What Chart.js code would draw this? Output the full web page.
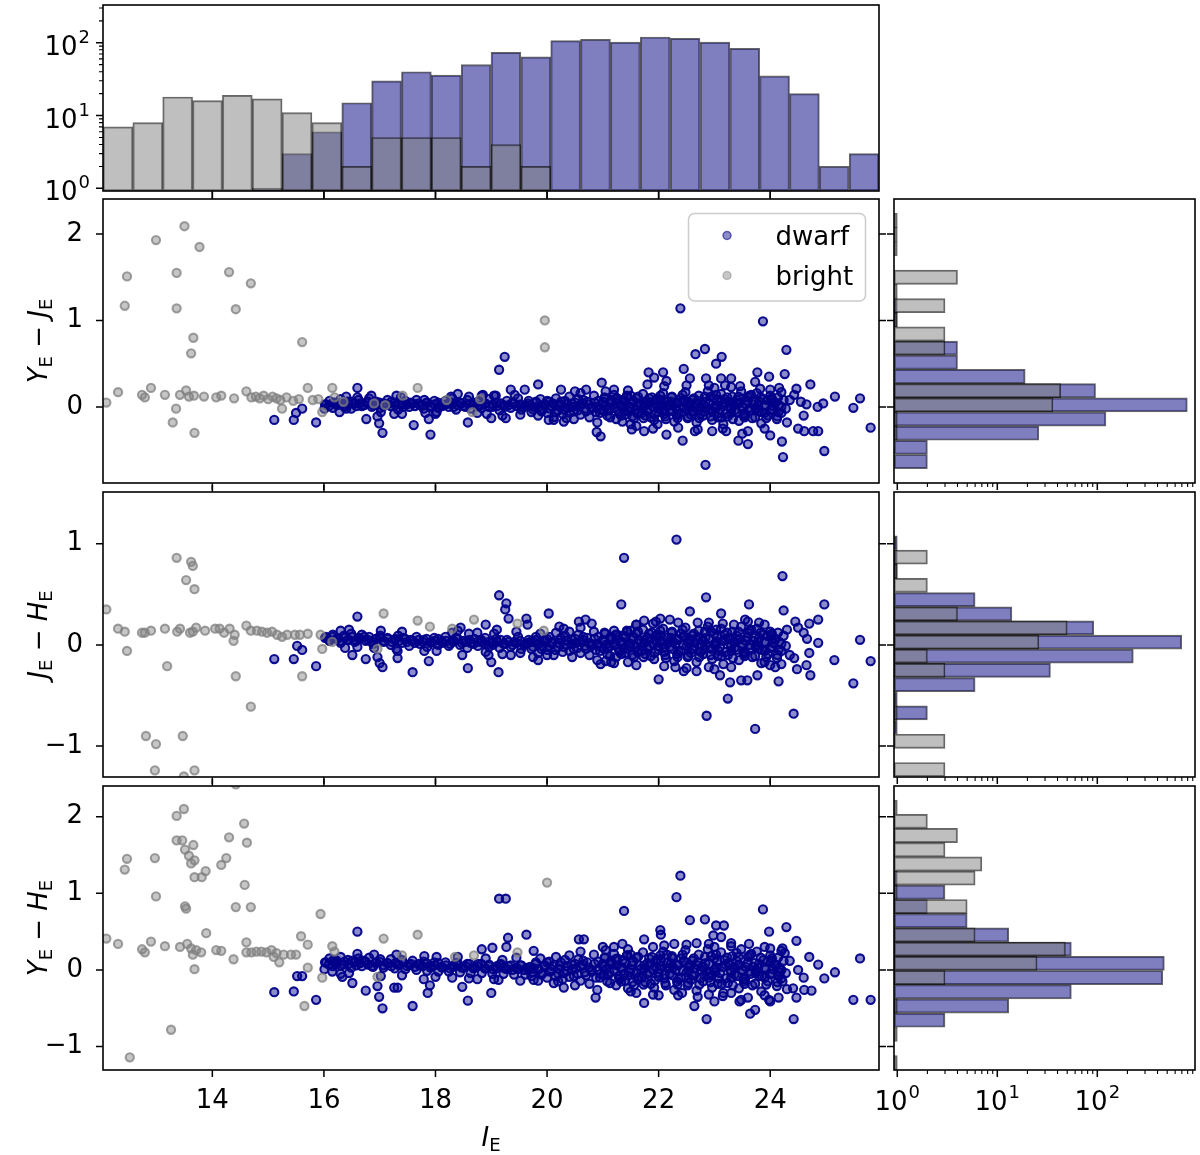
<!DOCTYPE html>
<html><head><meta charset="utf-8">
<script src="https://cdn.jsdelivr.net/npm/chart.js@4.4.1/dist/chart.umd.min.js"></script>
<style>
html,body{margin:0;padding:0;background:#fff;}
#wrap{position:relative;width:1200px;height:1155px;overflow:hidden;background:#fff;}
#wrap canvas{position:absolute;left:0;top:0;}
</style></head><body><div id="wrap"></div>
<script>
// ---------------- DATA ----------------
const seriesNames = ['dwarf', 'bright'];
const xRange = [12.04, 25.95];
const xTicks = [14, 16, 18, 20, 22, 24];
const yRangeYJ = [-0.88, 2.405], yTicksYJ = [0, 1, 2];
const yRangeJH = [-1.305, 1.51], yTicksJH = [-1, 0, 1];
const yRangeYH = [-1.305, 2.40], yTicksYH = [-1, 0, 1, 2];
const countRangeTop = [0.92, 330];
const countRangeSide = [0.927, 948];
const logTicks = [1, 10, 100];
const logMinor = [2,3,4,5,6,7,8,9,20,30,40,50,60,70,80,90,200,300,400,500,600,700,800,900];

// I_E histogram (bin centres)
const binI = [12.308,12.843,13.378,13.913,14.448,14.983,15.518,16.053,16.588,17.123,17.658,18.193,18.728,19.263,19.798,20.333,20.868,21.403,21.938,22.473,23.008,23.543,24.078,24.613,25.148,25.683];
const countI_dwarf  = [null,null,null,null,null,1,3,6,15,30,40,36,50,74,64,107,111,102,120,115,102,84,35,20,2,3];
const countI_bright = [7,8,18,16,19,17,11,8,2,5,5,5,2,4,2,null,null,null,null,null,null,null,null,null,null,null];

// colour histograms (bin centres, ascending)
const binYJ = [-0.632,-0.468,-0.304,-0.140,0.024,0.188,0.352,0.516,0.680,0.844,1.008,1.172,1.336,1.500,1.664,1.828,1.992,2.156];
const countYJ_dwarf  = [2,2,26,122,794,96,19,4,4,null,1,1,null,null,null,null,null,null];
const countYJ_bright = [null,null,1,1,36,43,null,null,3,3,1,3,1,4,null,1,1,1];
const binJH = [-1.231,-1.091,-0.952,-0.812,-0.672,-0.532,-0.392,-0.252,-0.112,0.028,0.168,0.307,0.447,0.587,0.727,0.867,1.007];
const countJH_dwarf  = [null,null,null,1,2,1,6,34,229,698,92,14,6,null,1,1,1];
const countJH_bright = [3,null,3,null,1,null,null,3,2,26,50,4,null,2,1,2,null];
const binYH = [-1.211,-1.026,-0.840,-0.655,-0.470,-0.284,-0.099,0.086,0.272,0.457,0.642,0.827,1.013,1.198,1.383,1.568,1.754,1.939,2.124];
const countYH_dwarf  = [null,null,null,3,13,55,451,468,55,13,5,2,3,1,null,null,null,null,null];
const countYH_bright = [1,null,1,null,1,null,3,25,48,6,null,5,1,6,7,3,4,2,1];

// scatter: [I_E, colour]
const brightYJ = [[12.10,0.05],[12.31,0.17],[12.43,1.17],[12.47,1.51],[12.74,0.14],[12.79,0.11],[12.90,0.22],[12.99,1.93],[13.15,0.14],[13.29,-0.18],[13.35,-0.02],[13.36,1.55],[13.36,1.14],[13.42,0.14],[13.50,2.09],[13.53,0.19],[13.58,0.12],[13.62,0.62],[13.66,0.80],[13.67,0.13],[13.68,-0.30],[13.77,1.85],[13.85,0.12],[14.07,0.11],[14.16,0.13],[14.30,1.56],[14.39,0.10],[14.42,1.13],[14.61,0.18],[14.69,1.43],[14.70,0.11],[14.78,0.12],[14.85,0.10],[14.92,0.13],[15.0,0.09],[15.08,0.12],[15.15,0.10],[15.25,-0.02],[15.22,0.08],[15.33,0.11],[15.45,0.07],[15.55,0.09],[15.61,0.75],[15.71,0.22],[15.80,0.08],[15.90,0.09],[15.97,-0.06],[16.15,0.22],[16.19,0.11],[16.35,0.06],[16.9,0.04],[17.1,0.02],[17.41,0.13],[17.68,0.22],[18.2,0.08],[18.66,-0.06],[18.8,0.09],[19.96,1.00],[19.96,0.69]];

const dwarfYJ = [[22.39,1.14],[23.87,0.99],[24.29,0.66],[22.83,0.67],[22.66,0.61],[23.13,0.58],[23.03,0.50],[22.45,0.44],[19.24,0.58],[19.14,0.43],[20.98,0.28],[19.84,0.26],[21.82,0.40],[21.92,0.34],[22.08,0.40],[22.14,0.30],[21.80,0.26],[22.56,0.33],[22.85,0.33],[23.12,0.33],[23.30,0.33],[23.19,0.25],[23.46,0.24],[23.77,0.40],[23.98,0.35],[24.26,0.38],[23.73,0.29],[23.82,0.21],[24.16,0.22],[24.47,0.21],[24.72,0.26],[24.43,0.14],[25.16,0.12],[25.61,0.10],[25.49,-0.01],[25.80,-0.24],[24.97,-0.51],[24.23,-0.58],[22.84,-0.67],[22.43,-0.39],[22.14,-0.32],[23.60,-0.43],[23.43,-0.39],[24.21,-0.40],[24.00,-0.33],[24.61,-0.28],[24.77,-0.28],[24.86,-0.28],[24.5,-0.25],[24.6,-0.10],[24.85,0.0],[24.65,0.03],[24.95,0.04],[24.55,0.06],[20.89,-0.29],[20.96,-0.34],[21.52,-0.26],[21.74,-0.28],[21.98,-0.20],[22.65,-0.28],[22.96,-0.28],[23.21,-0.28],[23.50,-0.31],[15.11,-0.15],[15.46,-0.15],[15.50,-0.07],[15.61,-0.02],[15.86,-0.18],[16.60,0.22],[16.01,-0.02],[16.19,0.05],[16.3,0.03],[16.4,-0.02],[16.76,-0.14],[16.96,-0.11],[16.99,-0.19],[17.05,-0.30],[17.26,-0.08],[17.4,-0.08],[17.61,-0.21],[17.88,-0.14],[17.91,-0.32],[18.0,-0.08],[18.58,-0.18],[19.00,-0.13],[19.26,-0.13],[20.03,-0.15],[20.12,-0.15],[20.35,-0.13],[20.48,-0.14],[21.35,-0.17],[21.5,-0.20],[18.3,0.10],[18.85,0.14],[19.6,0.20],[17.8,0.08],[19.35,0.20],[20.25,0.20],[20.5,0.18],[20.7,0.20],[18.83,0.13],[19.08,0.13],
[16.04,0.03],[16.1,0.07],[16.16,-0.01],[16.23,0.05],[16.3,0.09],[16.36,0.02],[16.43,0.06],[16.49,-0.02],[16.55,0.04],[16.62,0.08],[16.68,0.01],[16.75,0.05],[16.81,0.10],[16.88,0.02],[16.94,0.06],[17.01,-0.01],[17.07,0.04],[17.14,0.08],[17.2,0.01],[17.27,0.05],[17.33,-0.03],[17.4,0.03],[17.46,0.07],[17.53,0.0],[17.59,0.04],[17.66,0.08],[17.72,0.02],[17.79,-0.02],[17.85,0.05],[17.92,0.01],[17.98,0.07],[18.05,-0.01],[18.11,0.03],[18.18,0.07],[18.24,0.0],[18.31,0.04],[18.37,-0.03],[18.44,0.05],[18.5,0.01],[18.57,0.08],[18.63,-0.02],[18.7,0.03],[18.76,0.06],[18.83,-0.01],[18.89,0.04],[18.96,0.09],[19.02,0.0],[19.09,0.05],[19.15,-0.04],[19.22,0.02],[19.28,0.07],[19.35,-0.01],[19.41,0.04],[19.48,0.10],[19.54,-0.03],[19.61,0.02],[19.67,0.07],
[16.28,-0.06],[16.85,0.13],[17.38,0.11],[17.82,-0.07],[18.28,0.12],[18.92,-0.08],[19.05,0.13],[19.42,0.14],[19.52,-0.09],[16.6,0.11],[17.02,-0.06],[18.02,-0.06],[18.6,0.12],[17.3,0.13],[18.4,0.15],[19.2,-0.10],[16.4,0.12],[18.75,-0.07],
[19.72,-0.06],[19.76,0.0],[19.8,0.05],[19.84,-0.10],[19.88,0.09],[19.92,-0.03],[19.96,0.03],[20.0,-0.07],[20.04,0.06],[20.08,0.01],[20.12,-0.12],[20.16,0.10],[20.2,-0.04],[20.24,0.03],[20.28,-0.08],[20.32,0.07],[20.36,-0.01],[20.4,0.12],[20.44,0.04],[20.48,-0.05],[20.52,0.01],[20.56,0.09],[20.6,-0.09],[20.64,0.04],[20.68,-0.02],[20.72,0.06],[20.76,-0.12],[20.8,0.0],[20.84,0.13],[20.88,-0.06],[20.92,0.07],[20.96,-0.03],[21.0,0.03],[21.04,0.10],[21.08,-0.10],[21.12,-0.02],[21.16,0.05],[21.2,0.14],[21.24,-0.14],[21.28,-0.05],[21.32,0.02],[21.36,0.08],[21.4,-0.09],[21.44,0.12],[21.48,-0.02],[21.52,0.04],[21.56,-0.13],[21.6,0.10],[21.64,-0.06],[21.68,0.01],[21.72,0.15],[21.76,-0.10],[21.8,0.06],[21.84,-0.02],[21.88,0.11],[21.92,-0.15],[21.96,0.03],[22.0,-0.06],[22.04,0.08],[22.08,0.16],[22.12,-0.11],[22.16,0.01],[22.2,-0.03],[22.24,0.12],[22.28,-0.17],[22.32,0.05],[22.36,-0.08],[22.4,0.10],[22.44,-0.01],[22.48,0.17],[22.52,-0.13],[22.56,0.03],[22.6,0.08],[22.64,-0.05],[22.68,-0.18],[22.72,0.13],[22.76,0.0],[22.8,-0.10],[22.84,0.06],[22.88,0.18],[22.92,-0.03],[22.96,-0.15],[23.0,0.10],[23.04,0.02],[23.08,-0.07],[23.12,0.15],[23.16,-0.20],[23.2,0.05],[23.24,-0.11],[23.28,0.0],[23.32,0.12],[23.36,-0.04],[23.4,0.08],[23.44,-0.16],[23.48,0.18],[23.52,-0.08],[23.56,0.03],[23.6,0.11],[23.64,-0.01],[23.68,-0.13],[23.72,0.06],[23.76,0.16],[23.8,-0.05],[23.84,-0.19],[23.88,0.09],[23.92,0.01],[23.96,-0.10],[24.0,0.13],[24.04,-0.03],[24.08,0.05],[24.12,-0.14],[24.16,0.02],[24.2,-0.07],[24.24,0.08],[24.28,-0.02],
[21.02,-0.05],[21.14,0.07],[21.26,0.10],[21.38,-0.04],[21.5,0.13],[21.62,-0.08],[21.74,0.04],[21.86,-0.12],[21.98,0.09],[22.1,-0.04],[22.22,0.06],[22.34,-0.13],[22.46,0.07],[22.58,-0.09],[22.7,0.04],[22.82,-0.05],[22.94,0.12],[23.06,-0.12],[23.18,0.09],[23.3,-0.07],[23.42,0.04],[23.54,-0.12],[23.66,0.14],[23.78,0.02],[23.9,-0.07],[24.02,0.08],[24.14,0.11],[22.02,0.01],[22.54,0.0],[23.02,-0.02],[23.5,0.0],[22.26,0.02],[22.78,0.03],[23.26,0.05],[23.74,-0.03],
[21.2,0.20],[21.6,-0.22],[22.1,0.24],[22.7,-0.26],[23.3,0.23],[23.9,-0.25],[24.0,0.20],[20.6,0.16],[20.9,-0.18],[22.5,0.25],[23.6,-0.28],[24.3,-0.18],[24.35,0.08],[21.9,-0.25],[22.35,-0.24],[23.0,0.22],[23.15,-0.25],[22.9,0.25],[21.45,0.19],[24.2,0.17],[20.3,-0.17],[21.05,0.18]];

const coreYJ = [[16.02,0.03],[16.09,0.01],[16.16,0.05],[16.23,0.02],[16.3,0.04],[16.37,0.0],[16.44,0.03],[16.51,0.06],[16.58,0.01],[16.65,0.04],[16.72,0.02],[16.79,0.06],[16.86,0.0],[16.93,0.03],[17.0,0.05],[17.07,0.01],[17.14,0.03],[17.21,0.06],[17.28,0.02],[17.35,0.04],[17.42,0.0],[17.49,0.03],[17.56,0.05],[17.63,0.01],[17.7,0.04],[17.77,0.02],[17.84,0.05],[17.91,0.0],[17.98,0.03],[18.05,0.05],[18.12,0.01],[18.19,0.03],[18.26,0.05],[18.33,0.0],[18.4,0.02],[18.47,0.04],[18.54,0.0],[18.61,0.03],[18.68,0.05],[18.75,0.01],[18.82,0.02],[18.89,0.04],[18.96,0.0],[19.03,0.03],[19.1,0.01],[19.17,0.04],[19.24,0.0],[19.31,0.02],[19.38,0.05],[19.45,0.01],[19.52,0.03],[19.59,0.0],[19.66,0.04],
[19.7,0.02],[19.75,-0.03],[19.8,0.06],[19.85,0.0],[19.9,-0.05],[19.95,0.03],[20.0,0.07],[20.05,-0.02],[20.1,0.04],[20.15,-0.06],[20.2,0.01],[20.25,0.06],[20.3,-0.03],[20.35,0.03],[20.4,-0.07],[20.45,0.0],[20.5,0.05],[20.55,-0.04],[20.6,0.02],[20.65,0.08],[20.7,-0.05],[20.75,0.03],[20.8,-0.02],[20.85,0.05],[20.9,0.0],[20.95,-0.07],[21.0,0.06],[21.05,0.01],[21.1,-0.04],[21.15,0.08],[21.2,-0.01],[21.25,0.04],[21.3,-0.08],[21.35,0.02],[21.4,0.06],[21.45,-0.05],[21.5,0.0],[21.55,0.07],[21.6,-0.03],[21.65,0.04],[21.7,-0.07],[21.75,0.01],[21.8,-0.04],[21.85,0.05],[21.9,0.0],[21.95,0.08],[22.0,-0.02],[22.05,0.03],[22.1,-0.08],[22.15,0.06],[22.2,0.02],[22.25,-0.05],[22.3,0.0],[22.35,0.04],[22.4,-0.07],[22.45,0.08],[22.5,-0.02],[22.55,0.05],[22.6,-0.05],[22.65,0.01],[22.7,0.07],[22.75,-0.08],[22.8,0.03],[22.85,-0.01],[22.9,0.05],[22.95,-0.05],[23.0,0.0],[23.05,0.08],[23.1,-0.03],[23.15,0.03],[23.2,-0.08],[23.25,0.06],[23.3,-0.02],[23.35,0.02],[23.4,-0.06],[23.45,0.05],[23.5,0.0],[23.55,-0.09],[23.6,0.07],[23.65,-0.04],[23.7,0.03],[23.75,-0.01],[23.8,0.06],[23.85,-0.06],[23.9,0.02],[23.95,0.08],[24.0,-0.04],[24.05,0.01],[24.1,0.05],[24.15,-0.06],[24.2,0.0],
[21.03,0.11],[21.13,-0.12],[21.23,0.09],[21.33,-0.10],[21.43,0.13],[21.53,-0.11],[21.63,0.12],[21.73,-0.13],[21.83,0.10],[21.93,-0.09],[22.03,0.13],[22.13,-0.14],[22.23,0.11],[22.33,-0.10],[22.43,0.14],[22.53,-0.12],[22.63,0.10],[22.73,-0.13],[22.83,0.12],[22.93,-0.11],[23.03,0.14],[23.13,-0.12],[23.23,0.11],[23.33,-0.14],[23.43,0.12],[23.53,-0.10],[23.63,0.13],[23.73,-0.12],[23.83,0.11],[23.93,-0.13],[24.03,0.10],[24.13,-0.11]];

const brightJH = [[12.10,0.35],[12.31,0.16],[12.43,0.13],[12.47,-0.06],[12.74,0.12],[12.79,0.12],[12.81,-0.90],[12.90,0.14],[12.97,-1.24],[12.99,-0.98],[13.15,0.16],[13.19,-0.21],[13.36,0.86],[13.37,0.13],[13.42,0.16],[13.47,-0.90],[13.49,-1.30],[13.53,0.64],[13.60,0.12],[13.62,0.82],[13.65,0.78],[13.65,0.13],[13.68,0.55],[13.68,-1.24],[13.71,0.17],[13.87,0.14],[14.05,0.16],[14.13,0.16],[14.21,0.12],[14.31,0.16],[14.38,0.04],[14.40,0.10],[14.42,-0.31],[14.61,0.19],[14.69,0.14],[14.69,-0.61],[14.8,0.14],[14.89,0.13],[14.98,0.12],[15.07,0.13],[15.16,0.10],[15.25,0.08],[15.34,0.10],[15.48,0.10],[15.57,0.10],[15.61,-0.31],[15.71,0.11],[15.94,0.10],[15.97,-0.04],[16.15,0.03],[16.96,-0.04],[17.07,0.31],[17.68,0.24],[17.9,0.18],[18.3,0.16],[18.69,0.25],[19.47,0.21],[19.94,0.14]];

const dwarfJH = [[22.32,1.04],[21.38,0.86],[24.22,0.68],[19.14,0.49],[19.27,0.41],[19.25,0.35],[19.31,0.26],[22.85,0.47],[21.33,0.40],[23.62,0.40],[24.97,0.40],[24.24,0.34],[22.56,0.33],[23.12,0.31],[20.03,0.31],[19.63,0.26],[16.60,0.28],[24.86,0.25],[24.45,0.23],[24.70,0.21],[20.69,0.25],[20.57,0.23],[21.74,0.24],[22.03,0.26],[25.61,0.05],[25.80,-0.16],[25.49,-0.38],[25.15,-0.15],[24.72,-0.30],[24.42,-0.68],[23.73,-0.83],[22.86,-0.70],[23.24,-0.53],[23.28,-0.37],[23.48,-0.35],[23.59,-0.35],[24.15,-0.36],[23.77,-0.30],[22.00,-0.34],[22.45,-0.26],[22.68,-0.26],[23.10,-0.30],[20.96,-0.19],[19.13,-0.27],[18.58,-0.23],[17.59,-0.27],[17.05,-0.22],[17.0,-0.18],[16.96,-0.12],[15.11,-0.14],[15.46,-0.14],[15.86,-0.21],[15.52,-0.01],[15.61,-0.05],[16.75,-0.14],[16.51,-0.10],[16.38,-0.03],[17.32,-0.13],[17.32,-0.06],[17.88,-0.16],[18.48,-0.10],[18.95,-0.10],[19.00,-0.17],[19.35,-0.10],[19.75,-0.12],[19.84,-0.15],[24.86,0.02],[24.66,0.06],[24.7,-0.08],[24.43,-0.13],[24.48,-0.24],[24.09,-0.22],[23.9,-0.17],[24.6,0.12],[24.5,0.17],[24.65,-0.20],[18.45,0.17],[18.9,0.20],[19.65,0.20],[19.1,0.15],[20.22,0.18],[20.8,0.21],[21.95,0.23],[21.6,0.20],[22.2,0.25],[22.9,0.22],[23.35,0.20],[23.8,0.22],[23.55,0.25],[20.45,-0.12],[21.15,-0.17],[21.6,-0.20],[22.3,-0.22],[20.0,-0.10],
[16.04,0.08],[16.1,0.04],[16.16,0.10],[16.23,0.06],[16.3,0.02],[16.36,0.09],[16.43,0.05],[16.49,0.11],[16.55,0.03],[16.62,0.07],[16.68,0.10],[16.75,0.04],[16.81,0.08],[16.88,0.01],[16.94,0.06],[17.01,0.09],[17.07,0.03],[17.14,0.07],[17.2,0.0],[17.27,0.05],[17.33,0.09],[17.4,0.02],[17.46,0.06],[17.53,-0.01],[17.59,0.04],[17.66,0.08],[17.72,0.01],[17.79,0.05],[17.85,-0.02],[17.92,0.03],[17.98,0.07],[18.05,0.0],[18.11,0.04],[18.18,0.08],[18.24,-0.01],[18.31,0.03],[18.37,0.07],[18.44,0.0],[18.5,0.04],[18.57,-0.03],[18.63,0.02],[18.7,0.06],[18.76,-0.01],[18.83,0.03],[18.89,0.07],[18.96,-0.02],[19.02,0.02],[19.09,0.06],[19.15,-0.03],[19.22,0.01],[19.28,0.05],[19.35,-0.02],[19.41,0.03],[19.48,0.08],[19.54,-0.04],[19.61,0.01],[19.67,0.05],
[16.3,0.14],[16.9,-0.03],[17.4,0.13],[17.8,-0.06],[18.3,0.12],[18.9,-0.07],[19.05,0.11],[19.45,0.13],[19.52,-0.08],[16.6,-0.02],[17.02,0.14],[18.02,-0.06],[18.6,0.11],[17.3,-0.04],[18.4,0.14],[19.2,-0.09],[16.45,0.15],[18.75,0.12],
[19.72,-0.04],[19.76,0.03],[19.8,0.08],[19.84,-0.08],[19.88,0.11],[19.92,-0.01],[19.96,0.05],[20.0,-0.05],[20.04,0.08],[20.08,0.02],[20.12,-0.10],[20.16,0.12],[20.2,-0.02],[20.24,0.05],[20.28,-0.07],[20.32,0.09],[20.36,0.0],[20.4,0.13],[20.44,0.05],[20.48,-0.04],[20.52,0.02],[20.56,0.10],[20.6,-0.08],[20.64,0.05],[20.68,-0.01],[20.72,0.07],[20.76,-0.10],[20.8,0.01],[20.84,0.13],[20.88,-0.05],[20.92,0.08],[20.96,-0.02],[21.0,0.04],[21.04,0.11],[21.08,-0.09],[21.12,-0.01],[21.16,0.06],[21.2,0.14],[21.24,-0.12],[21.28,-0.04],[21.32,0.03],[21.36,0.09],[21.4,-0.08],[21.44,0.13],[21.48,-0.01],[21.52,0.05],[21.56,-0.12],[21.6,0.11],[21.64,-0.05],[21.68,0.02],[21.72,0.15],[21.76,-0.09],[21.8,0.07],[21.84,-0.01],[21.88,0.12],[21.92,-0.14],[21.96,0.04],[22.0,-0.05],[22.04,0.09],[22.08,0.16],[22.12,-0.10],[22.16,0.02],[22.2,-0.02],[22.24,0.13],[22.28,-0.16],[22.32,0.06],[22.36,-0.07],[22.4,0.11],[22.44,0.0],[22.48,0.17],[22.52,-0.12],[22.56,0.04],[22.6,0.09],[22.64,-0.04],[22.68,-0.17],[22.72,0.14],[22.76,0.01],[22.8,-0.09],[22.84,0.07],[22.88,0.18],[22.92,-0.02],[22.96,-0.14],[23.0,0.11],[23.04,0.03],[23.08,-0.06],[23.12,0.16],[23.16,-0.19],[23.2,0.06],[23.24,-0.10],[23.28,0.01],[23.32,0.13],[23.36,-0.03],[23.4,0.09],[23.44,-0.15],[23.48,0.18],[23.52,-0.07],[23.56,0.04],[23.6,0.12],[23.64,0.0],[23.68,-0.12],[23.72,0.07],[23.76,0.16],[23.8,-0.04],[23.84,-0.18],[23.88,0.10],[23.92,0.02],[23.96,-0.09],[24.0,0.13],[24.04,-0.02],[24.08,0.06],[24.12,-0.13],[24.16,0.03],[24.2,-0.06],[24.24,0.09],[24.28,-0.01],
[21.02,-0.04],[21.14,0.08],[21.26,0.10],[21.38,-0.03],[21.5,0.14],[21.62,-0.07],[21.74,0.05],[21.86,-0.11],[21.98,0.10],[22.1,-0.03],[22.22,0.07],[22.34,-0.12],[22.46,0.08],[22.58,-0.08],[22.7,0.05],[22.82,-0.04],[22.94,0.13],[23.06,-0.11],[23.18,0.10],[23.3,-0.06],[23.42,0.05],[23.54,-0.11],[23.66,0.15],[23.78,0.03],[23.9,-0.06],[24.02,0.09],[24.14,0.12],[22.02,0.02],[22.54,0.01],[23.02,-0.01],[23.5,0.01],[22.26,0.03],[22.78,0.04],[23.26,0.06],[23.74,-0.02],
[21.2,-0.18],[21.6,0.20],[22.1,-0.21],[22.7,0.22],[23.3,-0.22],[23.9,0.20],[24.0,-0.20],[20.6,0.17],[20.9,-0.15],[22.5,-0.23],[23.6,0.23],[24.3,0.15],[24.35,-0.10],[21.9,0.21],[22.35,0.22],[23.0,-0.24],[23.15,0.21],[22.9,-0.22],[21.45,-0.17],[24.2,-0.19],[20.3,0.16],[21.05,-0.16]];

const coreJH = [[16.02,0.07],[16.09,0.05],[16.16,0.08],[16.23,0.06],[16.3,0.04],[16.37,0.07],[16.44,0.05],[16.51,0.08],[16.58,0.04],[16.65,0.06],[16.72,0.08],[16.79,0.05],[16.86,0.03],[16.93,0.06],[17.0,0.07],[17.07,0.04],[17.14,0.06],[17.21,0.03],[17.28,0.06],[17.35,0.04],[17.42,0.07],[17.49,0.03],[17.56,0.05],[17.63,0.02],[17.7,0.05],[17.77,0.03],[17.84,0.06],[17.91,0.02],[17.98,0.04],[18.05,0.06],[18.12,0.02],[18.19,0.04],[18.26,0.01],[18.33,0.04],[18.4,0.06],[18.47,0.02],[18.54,0.03],[18.61,0.05],[18.68,0.01],[18.75,0.03],[18.82,0.05],[18.89,0.01],[18.96,0.03],[19.03,0.0],[19.1,0.03],[19.17,0.05],[19.24,0.01],[19.31,0.03],[19.38,0.0],[19.45,0.02],[19.52,0.04],[19.59,0.0],[19.66,0.02],
[19.7,0.03],[19.75,-0.02],[19.8,0.05],[19.85,0.01],[19.9,-0.04],[19.95,0.04],[20.0,0.06],[20.05,-0.01],[20.1,0.03],[20.15,-0.05],[20.2,0.02],[20.25,0.07],[20.3,-0.02],[20.35,0.04],[20.4,-0.06],[20.45,0.01],[20.5,0.06],[20.55,-0.03],[20.6,0.03],[20.65,0.08],[20.7,-0.04],[20.75,0.02],[20.8,-0.01],[20.85,0.06],[20.9,0.01],[20.95,-0.06],[21.0,0.05],[21.05,0.0],[21.1,-0.03],[21.15,0.07],[21.2,0.0],[21.25,0.05],[21.3,-0.07],[21.35,0.03],[21.4,0.07],[21.45,-0.04],[21.5,0.01],[21.55,0.08],[21.6,-0.02],[21.65,0.05],[21.7,-0.06],[21.75,0.02],[21.8,-0.03],[21.85,0.06],[21.9,0.01],[21.95,0.09],[22.0,-0.01],[22.05,0.04],[22.1,-0.07],[22.15,0.07],[22.2,0.03],[22.25,-0.04],[22.3,0.01],[22.35,0.05],[22.4,-0.06],[22.45,0.09],[22.5,-0.01],[22.55,0.06],[22.6,-0.04],[22.65,0.02],[22.7,0.08],[22.75,-0.07],[22.8,0.04],[22.85,0.0],[22.9,0.06],[22.95,-0.04],[23.0,0.01],[23.05,0.09],[23.1,-0.02],[23.15,0.04],[23.2,-0.07],[23.25,0.07],[23.3,-0.01],[23.35,0.03],[23.4,-0.05],[23.45,0.06],[23.5,0.01],[23.55,-0.08],[23.6,0.08],[23.65,-0.03],[23.7,0.04],[23.75,0.0],[23.8,0.07],[23.85,-0.05],[23.9,0.03],[23.95,0.09],[24.0,-0.03],[24.05,0.02],[24.1,0.06],[24.15,-0.05],[24.2,0.01],
[21.03,0.12],[21.13,-0.11],[21.23,0.10],[21.33,-0.09],[21.43,0.14],[21.53,-0.10],[21.63,0.13],[21.73,-0.12],[21.83,0.11],[21.93,-0.08],[22.03,0.14],[22.13,-0.13],[22.23,0.12],[22.33,-0.09],[22.43,0.15],[22.53,-0.11],[22.63,0.11],[22.73,-0.12],[22.83,0.13],[22.93,-0.10],[23.03,0.15],[23.13,-0.11],[23.23,0.12],[23.33,-0.13],[23.43,0.13],[23.53,-0.09],[23.63,0.14],[23.73,-0.11],[23.83,0.12],[23.93,-0.12],[24.03,0.11],[24.13,-0.10]];

const brightYH = [[12.10,0.41],[12.31,0.34],[12.43,1.31],[12.47,1.45],[12.52,-1.14],[12.74,0.27],[12.79,0.23],[12.90,0.37],[12.97,1.46],[12.99,0.96],[13.15,0.31],[13.26,-0.78],[13.36,2.01],[13.49,2.10],[13.36,1.69],[13.46,1.69],[13.51,1.57],[13.58,1.49],[13.66,1.63],[13.68,1.43],[13.62,1.39],[13.68,1.21],[13.81,1.21],[13.88,1.29],[13.51,0.83],[13.53,0.80],[13.42,0.30],[13.55,0.34],[13.62,0.28],[13.65,0.20],[13.68,0.01],[13.71,0.26],[13.8,0.23],[13.89,0.48],[14.07,0.26],[14.16,0.25],[14.16,1.37],[14.25,1.46],[14.30,1.73],[14.38,0.14],[14.42,0.82],[14.57,1.91],[14.62,1.66],[14.58,1.11],[14.69,0.82],[14.42,2.42],[14.61,0.36],[14.61,0.23],[14.7,0.23],[14.79,0.24],[14.88,0.24],[14.97,0.23],[15.06,0.26],[15.1,0.17],[15.15,0.22],[15.2,0.10],[15.28,0.20],[15.41,0.20],[15.59,0.44],[15.71,0.33],[15.71,0.03],[15.5,0.20],[15.65,-0.47],[15.94,0.73],[15.97,-0.10],[16.15,0.31],[16.19,0.24],[17.07,0.41],[17.68,0.46],[16.96,-0.09],[17.4,0.19],[18.35,0.17],[18.69,0.19],[19.47,0.23],[20.0,1.14]];

const dwarfYH = [[22.39,1.23],[22.32,0.95],[19.14,0.93],[19.26,0.93],[21.38,0.77],[23.87,0.79],[22.56,0.65],[22.83,0.66],[23.03,0.58],[23.17,0.58],[24.29,0.56],[23.98,0.50],[24.47,0.38],[22.03,0.52],[22.04,0.46],[22.98,0.45],[23.12,0.43],[23.62,0.34],[24.22,0.28],[24.26,0.22],[24.70,0.17],[24.86,0.07],[25.61,0.15],[25.16,-0.03],[24.97,-0.11],[25.49,-0.39],[25.80,-0.39],[24.42,-0.64],[22.86,-0.64],[23.73,-0.52],[23.64,-0.57],[23.45,-0.41],[23.48,-0.39],[23.00,-0.41],[22.64,-0.47],[22.42,-0.30],[22.00,-0.33],[21.74,-0.43],[21.45,-0.24],[20.87,-0.36],[23.98,-0.39],[24.0,-0.41],[24.15,-0.36],[24.47,-0.36],[24.74,-0.27],[24.61,-0.26],[24.41,-0.24],[24.22,-0.15],[24.17,-0.03],[24.5,0.0],[24.6,-0.10],[20.66,0.40],[20.57,0.40],[21.0,0.30],[21.35,0.34],[21.74,0.40],[22.28,0.34],[22.68,0.35],[21.9,0.30],[19.63,0.46],[19.30,0.42],[19.27,0.30],[18.83,0.27],[19.02,0.29],[19.76,0.25],[16.60,0.50],[15.11,-0.29],[15.46,-0.28],[15.52,-0.08],[15.61,-0.08],[15.86,-0.39],[16.01,0.01],[16.19,0.13],[16.21,0.07],[16.15,-0.02],[16.33,-0.09],[16.51,-0.17],[16.75,-0.27],[16.96,-0.21],[16.99,-0.35],[17.05,-0.50],[17.26,-0.23],[17.32,-0.23],[17.59,-0.47],[17.86,-0.30],[17.79,-0.12],[17.9,-0.20],[18.0,-0.09],[18.48,-0.22],[18.58,-0.40],[19.00,-0.30],[19.13,-0.13],[19.76,-0.13],[20.2,-0.15],[20.5,-0.20],[23.3,0.35],[23.9,0.30],[21.5,-0.28],[22.9,-0.32],[23.3,-0.30],
[16.04,0.10],[16.1,0.15],[16.16,0.05],[16.23,0.12],[16.3,0.17],[16.36,0.07],[16.43,0.13],[16.49,0.03],[16.55,0.10],[16.62,0.15],[16.68,0.05],[16.75,0.11],[16.81,0.16],[16.88,0.04],[16.94,0.10],[17.01,0.14],[17.07,0.03],[17.14,0.09],[17.2,0.14],[17.27,0.02],[17.33,0.08],[17.4,0.13],[17.46,0.01],[17.53,0.07],[17.59,0.12],[17.66,0.0],[17.72,0.06],[17.79,0.11],[17.85,-0.01],[17.92,0.05],[17.98,0.10],[18.05,-0.02],[18.11,0.04],[18.18,0.10],[18.24,-0.02],[18.31,0.04],[18.37,0.09],[18.44,-0.03],[18.5,0.03],[18.57,0.08],[18.63,-0.04],[18.7,0.03],[18.76,0.08],[18.83,-0.04],[18.89,0.02],[18.96,0.07],[19.02,-0.05],[19.09,0.02],[19.15,0.07],[19.22,-0.05],[19.28,0.01],[19.35,0.06],[19.41,-0.06],[19.48,0.01],[19.54,0.06],[19.61,-0.06],[19.67,0.0],
[16.3,-0.05],[16.9,0.20],[17.4,-0.07],[17.8,0.18],[18.3,-0.10],[18.9,0.15],[19.05,-0.12],[19.45,0.16],[19.52,-0.14],[16.6,0.21],[17.02,-0.08],[18.02,0.17],[18.6,-0.11],[17.3,0.20],[18.4,0.17],[19.2,0.13],[16.45,-0.04],[18.75,-0.12],
[19.72,-0.08],[19.76,0.02],[19.8,0.10],[19.84,-0.14],[19.88,0.15],[19.92,-0.04],[19.96,0.06],[20.0,-0.10],[20.04,0.11],[20.08,0.01],[20.12,-0.17],[20.16,0.17],[20.2,-0.05],[20.24,0.06],[20.28,-0.12],[20.32,0.13],[20.36,-0.01],[20.4,0.19],[20.44,0.07],[20.48,-0.08],[20.52,0.02],[20.56,0.14],[20.6,-0.14],[20.64,0.07],[20.68,-0.03],[20.72,0.10],[20.76,-0.18],[20.8,0.0],[20.84,0.20],[20.88,-0.10],[20.92,0.11],[20.96,-0.05],[21.0,0.05],[21.04,0.16],[21.08,-0.15],[21.12,-0.03],[21.16,0.08],[21.2,0.21],[21.24,-0.20],[21.28,-0.08],[21.32,0.03],[21.36,0.13],[21.4,-0.14],[21.44,0.19],[21.48,-0.03],[21.52,0.06],[21.56,-0.20],[21.6,0.16],[21.64,-0.09],[21.68,0.01],[21.72,0.23],[21.76,-0.16],[21.8,0.09],[21.84,-0.03],[21.88,0.17],[21.92,-0.23],[21.96,0.04],[22.0,-0.09],[22.04,0.12],[22.08,0.24],[22.12,-0.17],[22.16,0.02],[22.2,-0.05],[22.24,0.18],[22.28,-0.26],[22.32,0.07],[22.36,-0.12],[22.4,0.15],[22.44,-0.01],[22.48,0.26],[22.52,-0.20],[22.56,0.04],[22.6,0.12],[22.64,-0.07],[22.68,-0.27],[22.72,0.20],[22.76,0.0],[22.8,-0.15],[22.84,0.09],[22.88,0.27],[22.92,-0.04],[22.96,-0.23],[23.0,0.15],[23.04,0.03],[23.08,-0.11],[23.12,0.23],[23.16,-0.30],[23.2,0.07],[23.24,-0.17],[23.28,0.0],[23.32,0.18],[23.36,-0.06],[23.4,0.12],[23.44,-0.24],[23.48,0.27],[23.52,-0.12],[23.56,0.04],[23.6,0.17],[23.64,-0.02],[23.68,-0.20],[23.72,0.09],[23.76,0.24],[23.8,-0.08],[23.84,-0.28],[23.88,0.13],[23.92,0.01],[23.96,-0.15],[24.0,0.19],[24.04,-0.05],[24.08,0.07],[24.12,-0.21],[24.16,0.03],[24.2,-0.11],[24.24,0.12],[24.28,-0.04],
[21.02,-0.07],[21.14,0.11],[21.26,0.15],[21.38,-0.05],[21.5,0.20],[21.62,-0.12],[21.74,0.06],[21.86,-0.18],[21.98,0.14],[22.1,-0.06],[22.22,0.09],[22.34,-0.19],[22.46,0.11],[22.58,-0.13],[22.7,0.06],[22.82,-0.07],[22.94,0.18],[23.06,-0.18],[23.18,0.13],[23.3,-0.10],[23.42,0.06],[23.54,-0.18],[23.66,0.21],[23.78,0.03],[23.9,-0.10],[24.02,0.12],[24.14,0.16],[22.02,0.01],[22.54,-0.01],[23.02,-0.03],[23.5,0.0],[22.26,0.03],[22.78,0.04],[23.26,0.07],[23.74,-0.04],[21.3,-0.12],[22.15,0.20],[22.9,-0.10],[23.4,0.22],
[21.2,0.30],[21.6,-0.30],[22.1,0.32],[22.7,-0.35],[23.3,0.31],[23.9,-0.33],[24.0,0.28],[20.6,0.24],[20.9,-0.26],[22.5,0.33],[23.6,-0.36],[24.3,-0.25],[24.35,0.12],[21.9,-0.32],[22.35,-0.33],[23.0,0.30],[23.15,-0.34],[22.9,0.34],[21.45,0.27],[24.2,0.25],[20.3,-0.23],[21.05,0.26]];

const coreYH = [[16.02,0.10],[16.09,0.07],[16.16,0.12],[16.23,0.09],[16.3,0.06],[16.37,0.11],[16.44,0.08],[16.51,0.12],[16.58,0.06],[16.65,0.09],[16.72,0.12],[16.79,0.07],[16.86,0.05],[16.93,0.09],[17.0,0.11],[17.07,0.06],[17.14,0.09],[17.21,0.05],[17.28,0.09],[17.35,0.06],[17.42,0.10],[17.49,0.05],[17.56,0.08],[17.63,0.04],[17.7,0.08],[17.77,0.05],[17.84,0.09],[17.91,0.03],[17.98,0.06],[18.05,0.09],[18.12,0.03],[18.19,0.06],[18.26,0.02],[18.33,0.06],[18.4,0.09],[18.47,0.03],[18.54,0.05],[18.61,0.08],[18.68,0.02],[18.75,0.05],[18.82,0.08],[18.89,0.02],[18.96,0.05],[19.03,0.01],[19.1,0.05],[19.17,0.08],[19.24,0.02],[19.31,0.05],[19.38,0.0],[19.45,0.03],[19.52,0.06],[19.59,0.0],[19.66,0.03],
[19.7,0.04],[19.75,-0.03],[19.8,0.08],[19.85,0.01],[19.9,-0.06],[19.95,0.05],[20.0,0.10],[20.05,-0.02],[20.1,0.05],[20.15,-0.08],[20.2,0.02],[20.25,0.10],[20.3,-0.04],[20.35,0.05],[20.4,-0.09],[20.45,0.01],[20.5,0.08],[20.55,-0.05],[20.6,0.04],[20.65,0.12],[20.7,-0.07],[20.75,0.03],[20.8,-0.02],[20.85,0.08],[20.9,0.0],[20.95,-0.10],[21.0,0.08],[21.05,0.01],[21.1,-0.06],[21.15,0.11],[21.2,-0.01],[21.25,0.06],[21.3,-0.11],[21.35,0.03],[21.4,0.09],[21.45,-0.07],[21.5,0.0],[21.55,0.11],[21.6,-0.04],[21.65,0.06],[21.7,-0.10],[21.75,0.02],[21.8,-0.05],[21.85,0.08],[21.9,0.0],[21.95,0.12],[22.0,-0.03],[22.05,0.05],[22.1,-0.11],[22.15,0.09],[22.2,0.03],[22.25,-0.07],[22.3,0.0],[22.35,0.06],[22.4,-0.10],[22.45,0.12],[22.5,-0.03],[22.55,0.07],[22.6,-0.07],[22.65,0.02],[22.7,0.10],[22.75,-0.11],[22.8,0.04],[22.85,-0.01],[22.9,0.08],[22.95,-0.07],[23.0,0.0],[23.05,0.12],[23.1,-0.04],[23.15,0.04],[23.2,-0.11],[23.25,0.09],[23.3,-0.03],[23.35,0.03],[23.4,-0.08],[23.45,0.07],[23.5,0.0],[23.55,-0.12],[23.6,0.10],[23.65,-0.05],[23.7,0.04],[23.75,-0.01],[23.8,0.08],[23.85,-0.08],[23.9,0.03],[23.95,0.11],[24.0,-0.05],[24.05,0.01],[24.1,0.07],[24.15,-0.08],[24.2,0.0],
[21.03,0.16],[21.13,-0.17],[21.23,0.14],[21.33,-0.15],[21.43,0.19],[21.53,-0.16],[21.63,0.17],[21.73,-0.19],[21.83,0.15],[21.93,-0.14],[22.03,0.19],[22.13,-0.20],[22.23,0.16],[22.33,-0.15],[22.43,0.20],[22.53,-0.17],[22.63,0.15],[22.73,-0.19],[22.83,0.17],[22.93,-0.16],[23.03,0.20],[23.13,-0.18],[23.23,0.16],[23.33,-0.20],[23.43,0.17],[23.53,-0.15],[23.63,0.19],[23.73,-0.18],[23.83,0.16],[23.93,-0.19],[24.03,0.15],[24.13,-0.16]];

// ---------------- LAYOUT & STYLE ----------------
const W = 1200, H = 1155;
const FONT = '"DejaVu Sans", "Liberation Sans", Arial, sans-serif';
const AREAS = {
  histI: {l:103, t:5,   r:879,  b:191},
  scYJ:  {l:103, t:199, r:879,  b:483},
  scJH:  {l:103, t:492, r:879,  b:777},
  scYH:  {l:103, t:786, r:879,  b:1070},
  hYJ:   {l:894, t:199, r:1195, b:483},
  hJH:   {l:894, t:492, r:1195, b:777},
  hYH:   {l:894, t:786, r:1195, b:1070}
};
const STYLE = {
  dwarfPtBg: 'rgba(0,0,139,0.45)', dwarfPtBd: 'rgba(0,0,139,0.95)',
  brightPtBg: 'rgba(128,128,128,0.45)', brightPtBd: 'rgba(128,128,128,0.75)',
  dwarfBar: 'rgba(0,0,128,0.5)', brightBar: 'rgba(128,128,128,0.5)', edge: 'rgba(0,0,0,0.6)',
  ptRadius: 4.1, ptBorder: 2.1
};
Chart.defaults.font.family = FONT;
Chart.defaults.font.size = 26;
Chart.defaults.color = '#000';

const wrap = document.getElementById('wrap');
function mkCanvas() {
  const c = document.createElement('canvas');
  c.width = W; c.height = H; c.style.width = W + 'px'; c.style.height = H + 'px';
  wrap.appendChild(c); return c;
}
const fmtTick = v => (v < 0 ? '\u2212' + Math.abs(v) : String(v));
function axis(c) {
  const size = c.size || 0;
  return {
    type: c.type || 'linear', min: c.min, max: c.max, offset: false, bounds: 'data',
    display: !!c.labels,
    grid: {display: false, drawTicks: false}, border: {display: false},
    ticks: {display: !!c.labels, padding: c.pad || 0, autoSkip: false, maxRotation: 0, minRotation: 0,
            color: '#000', font: {size: 26, family: FONT}, callback: v => fmtTick(v)},
    afterBuildTicks: s => { s.ticks = c.ticks.map(v => ({value: v})); },
    afterFit: s => {
      s.paddingLeft = s.paddingRight = s.paddingTop = s.paddingBottom = 0;
      if (s.isHorizontal()) s.height = size; else s.width = size;
    }
  };
}
function opts(area, scales, decor, extra, sizes) {
  const sz = sizes || {left: 0, bottom: 0};
  return Object.assign({
    responsive: false, maintainAspectRatio: false, animation: false, events: [],
    devicePixelRatio: window.devicePixelRatio || 1,
    layout: {autoPadding: false, padding: {left: area.l - sz.left, top: area.t, right: W - area.r, bottom: H - area.b - sz.bottom}},
    scales,
    plugins: {legend: {display: false}, tooltip: {enabled: false}, decor}
  }, extra || {});
}

function drawMath(ctx, parts, cx, cy, rot) {
  const fonts = {i: 'italic 26px ' + FONT, r: '26px ' + FONT, s: '18px ' + FONT};
  ctx.save(); ctx.translate(cx, cy); if (rot) ctx.rotate(-Math.PI / 2);
  let total = 0;
  const ws = parts.map(([t, k]) => { ctx.font = fonts[k]; const w = ctx.measureText(t).width; total += w; return w; });
  let x = -total / 2;
  ctx.textBaseline = 'alphabetic'; ctx.textAlign = 'left'; ctx.fillStyle = '#000';
  parts.forEach(([t, k], i) => { ctx.font = fonts[k]; ctx.fillText(t, x, k === 's' ? 5 : 0); x += ws[i]; });
  ctx.restore();
}

const decor = {
  id: 'decor',
  afterDatasetsDraw(chart, args, o) {
    const ctx = chart.ctx, a = chart.chartArea;
    ctx.save();
    ctx.strokeStyle = '#000'; ctx.lineCap = 'butt';
    (o.marks || []).forEach(m => {
      const s = chart.scales[m.axis];
      ctx.lineWidth = m.lw || 1.5;
      ctx.beginPath();
      m.values.forEach(v => {
        const p = s.getPixelForValue(v);
        if (s.isHorizontal() ? (p < a.left - 1 || p > a.right + 1) : (p < a.top - 1 || p > a.bottom + 1)) return;
        if (m.side === 'bottom') { ctx.moveTo(p, a.bottom); ctx.lineTo(p, a.bottom + m.len); }
        else if (m.side === 'top') { ctx.moveTo(p, a.top); ctx.lineTo(p, a.top - m.len); }
        else if (m.side === 'left') { ctx.moveTo(a.left, p); ctx.lineTo(a.left - m.len, p); }
        else { ctx.moveTo(a.right, p); ctx.lineTo(a.right + m.len, p); }
      });
      ctx.stroke();
    });
    ctx.lineWidth = 1.6;
    ctx.strokeRect(a.left, a.top, a.right - a.left, a.bottom - a.top);
    (o.pow || []).forEach(L => {
      const s = chart.scales[L.axis];
      L.values.forEach(v => {
        const e = String(Math.round(Math.log10(v)));
        const p = s.getPixelForValue(v);
        ctx.fillStyle = '#000'; ctx.textAlign = 'left'; ctx.textBaseline = 'alphabetic';
        ctx.font = '26px ' + FONT; const wb = ctx.measureText('10').width;
        ctx.font = '18px ' + FONT; const we = ctx.measureText(e).width;
        const tw = wb + 1 + we;
        let x0, yb;
        if (L.side === 'left') { x0 = a.left - L.gap - tw; yb = p + 12; }
        else { x0 = p - tw / 2; yb = a.bottom + L.gap; }
        ctx.font = '26px ' + FONT; ctx.fillText('10', x0, yb);
        ctx.font = '18px ' + FONT; ctx.fillText(e, x0 + wb + 1, yb - 12);
      });
    });
    ctx.restore();
  },
  afterDraw(chart, args, o) {
    const ctx = chart.ctx;
    (o.math || []).forEach(M => drawMath(ctx, M.parts, M.x, M.y, M.rot));
    if (o.legend) {
      const L = o.legend;
      ctx.save();
      const {x, y, w, h} = L, r = 6;
      ctx.beginPath();
      ctx.moveTo(x + r, y); ctx.lineTo(x + w - r, y); ctx.arcTo(x + w, y, x + w, y + r, r);
      ctx.lineTo(x + w, y + h - r); ctx.arcTo(x + w, y + h, x + w - r, y + h, r);
      ctx.lineTo(x + r, y + h); ctx.arcTo(x, y + h, x, y + h - r, r);
      ctx.lineTo(x, y + r); ctx.arcTo(x, y, x + r, y, r); ctx.closePath();
      ctx.fillStyle = 'rgba(255,255,255,0.8)'; ctx.fill();
      ctx.strokeStyle = '#cccccc'; ctx.lineWidth = 1.5; ctx.stroke();
      L.order.forEach((di, k) => {
        const ds = chart.data.datasets[di];
        const my = L.my + k * L.dy;
        ctx.beginPath(); ctx.arc(L.mx, my, L.r, 0, Math.PI * 2);
        ctx.fillStyle = ds.pointBackgroundColor; ctx.fill();
        ctx.lineWidth = 1.5; ctx.strokeStyle = ds.pointBorderColor; ctx.globalAlpha = 0.6; ctx.stroke(); ctx.globalAlpha = 1;
        ctx.fillStyle = '#000'; ctx.font = '26px ' + FONT; ctx.textAlign = 'left'; ctx.textBaseline = 'alphabetic';
        ctx.fillText(ds.label, L.tx, L.ty + k * L.dy);
      });
      ctx.restore();
    }
  }
};
Chart.register(decor);

// ---------------- CHARTS ----------------
const barDs = (label, bins, counts, color, horiz) => ({
  label, data: bins.map((b, i) => horiz ? {y: b, x: counts[i]} : {x: b, y: counts[i]}),
  backgroundColor: color, borderColor: STYLE.edge, borderWidth: 1.3, borderSkipped: false,
  grouped: false, barPercentage: 1, categoryPercentage: 1, clip: 0
});
const ptDs = (label, pts, bg, bd) => ({
  label, data: pts.map(([x, y]) => ({x, y})),
  pointRadius: STYLE.ptRadius, pointBorderWidth: STYLE.ptBorder, pointBackgroundColor: bg, pointBorderColor: bd,
  backgroundColor: bg, borderColor: bd, showLine: false, clip: 0
});
const majMin = (axisId, side) => [
  {axis: axisId, side, values: logTicks, len: 7, lw: 1.5},
  {axis: axisId, side, values: logMinor, len: 4, lw: 1.1}
];

// top histogram
new Chart(mkCanvas(), {
  type: 'bar',
  data: {datasets: [
    barDs(seriesNames[1], binI, countI_bright, STYLE.brightBar, false),
    barDs(seriesNames[0], binI, countI_dwarf, STYLE.dwarfBar, false)
  ]},
  options: opts(AREAS.histI, {
    x: axis({min: xRange[0], max: xRange[1], ticks: xTicks}),
    y: axis({type: 'logarithmic', min: countRangeTop[0], max: countRangeTop[1], ticks: logTicks})
  }, {
    marks: [{axis: 'x', side: 'bottom', values: xTicks, len: 7}].concat(majMin('y', 'left')),
    pow: [{axis: 'y', side: 'left', values: logTicks, gap: 13}]
  })
});

// scatter panels
const panels = [
  {area: AREAS.scYJ, dwarf: dwarfYJ.concat(coreYJ), bright: brightYJ, yr: yRangeYJ, yt: yTicksYJ,
   label: [['Y','i'],['E','s'],[' \u2212 ','r'],['J','i'],['E','s']], legend: true},
  {area: AREAS.scJH, dwarf: dwarfJH.concat(coreJH), bright: brightJH, yr: yRangeJH, yt: yTicksJH,
   label: [['J','i'],['E','s'],[' \u2212 ','r'],['H','i'],['E','s']]},
  {area: AREAS.scYH, dwarf: dwarfYH.concat(coreYH), bright: brightYH, yr: yRangeYH, yt: yTicksYH,
   label: [['Y','i'],['E','s'],[' \u2212 ','r'],['H','i'],['E','s']], xlabels: true}
];
panels.forEach(P => {
  const a = P.area;
  const math = [{parts: P.label, x: 47, y: (a.t + a.b) / 2, rot: true}];
  if (P.xlabels) math.push({parts: [['I','i'],['E','s']], x: (a.l + a.r) / 2, y: 1146, rot: false});
  const xSize = P.xlabels ? H - a.b : 0;
  new Chart(mkCanvas(), {
    type: 'scatter',
    data: {datasets: [
      ptDs(seriesNames[1], P.bright, STYLE.brightPtBg, STYLE.brightPtBd),
      ptDs(seriesNames[0], P.dwarf, STYLE.dwarfPtBg, STYLE.dwarfPtBd)
    ]},
    options: opts(a, {
      x: axis({min: xRange[0], max: xRange[1], ticks: xTicks, labels: !!P.xlabels, pad: 16, size: xSize}),
      y: axis({min: P.yr[0], max: P.yr[1], ticks: P.yt, labels: true, pad: 20, size: a.l})
    }, {
      marks: [
        {axis: 'x', side: 'bottom', values: xTicks, len: 7},
        {axis: 'x', side: 'top', values: xTicks, len: 7},
        {axis: 'y', side: 'left', values: P.yt, len: 7},
        {axis: 'y', side: 'right', values: P.yt, len: 7}
      ],
      math,
      legend: P.legend ? {x: 688.5, y: 213.5, w: 177, h: 87.5, mx: 727, my: 235.5, dy: 40, r: 4, tx: 775.5, ty: 245, order: [1, 0]} : null
    }, null, {left: a.l, bottom: xSize})
  });
});

// side histograms
const sides = [
  {area: AREAS.hYJ, bins: binYJ, d: countYJ_dwarf, b: countYJ_bright, yr: yRangeYJ, yt: yTicksYJ},
  {area: AREAS.hJH, bins: binJH, d: countJH_dwarf, b: countJH_bright, yr: yRangeJH, yt: yTicksJH},
  {area: AREAS.hYH, bins: binYH, d: countYH_dwarf, b: countYH_bright, yr: yRangeYH, yt: yTicksYH, labels: true}
];
sides.forEach(S => {
  new Chart(mkCanvas(), {
    type: 'bar',
    data: {datasets: [
      barDs(seriesNames[1], S.bins, S.b, STYLE.brightBar, true),
      barDs(seriesNames[0], S.bins, S.d, STYLE.dwarfBar, true)
    ]},
    options: opts(S.area, {
      y: axis({min: S.yr[0], max: S.yr[1], ticks: S.yt}),
      x: axis({type: 'logarithmic', min: countRangeSide[0], max: countRangeSide[1], ticks: logTicks})
    }, {
      marks: [{axis: 'y', side: 'left', values: S.yt, len: 7}].concat(majMin('x', 'bottom')),
      pow: S.labels ? [{axis: 'x', side: 'bottom', values: logTicks, gap: 40}] : []
    }, {indexAxis: 'y'})
  });
});
</script>
</body></html>
